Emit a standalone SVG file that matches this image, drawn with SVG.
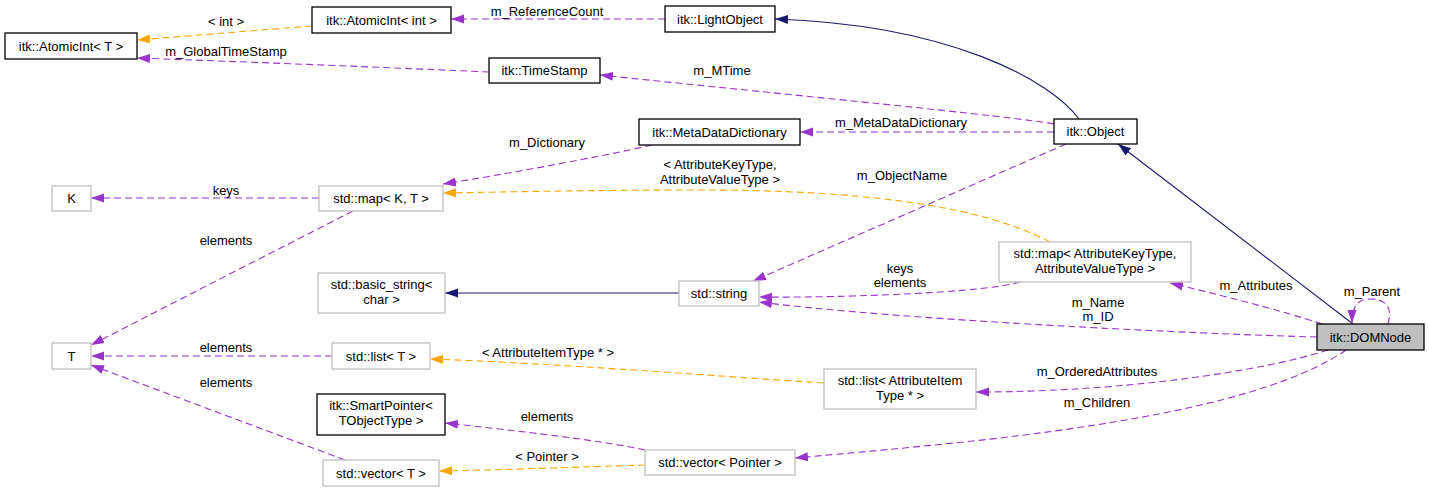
<svg xmlns="http://www.w3.org/2000/svg" width="1429" height="492" viewBox="0 0 1429 492">
<defs>
<style>
text{font-family:"Liberation Sans",Arial,sans-serif;font-size:13px;fill:#000;text-anchor:middle}
.nb{fill:#fff;stroke:#000;stroke-width:1.3}
.ng{fill:#fff;stroke:#bfbfbf;stroke-width:1.3}
.nc{fill:#bfbfbf;stroke:#000;stroke-width:1.3}
.p{fill:none;stroke:#9a32cd;stroke-width:1.1;stroke-dasharray:7,4;marker-end:url(#ap)}
.o{fill:none;stroke:#ffa500;stroke-width:1.1;stroke-dasharray:7,4;marker-end:url(#ao)}
.n{fill:none;stroke:#191970;stroke-width:1.1;marker-end:url(#an)}
</style>
<marker id="ap" markerUnits="userSpaceOnUse" markerWidth="14" markerHeight="10" refX="13" refY="5" orient="auto"><path d="M0,0.5 L13,5 L0,9.5 z" fill="#9a32cd"/></marker>
<marker id="ao" markerUnits="userSpaceOnUse" markerWidth="14" markerHeight="10" refX="13" refY="5" orient="auto"><path d="M0,0.5 L13,5 L0,9.5 z" fill="#ffa500"/></marker>
<marker id="an" markerUnits="userSpaceOnUse" markerWidth="14" markerHeight="10" refX="13" refY="5" orient="auto"><path d="M0,0.5 L13,5 L0,9.5 z" fill="#191970"/></marker>
</defs>
<rect width="1429" height="492" fill="#fff"/>
<g id="connectors">
<path class="o" d="M312,26 L137,40"/>
<text x="226" y="26">&lt; int &gt;</text>
<path class="p" d="M665,19 L451,19"/>
<text x="547" y="16">m_ReferenceCount</text>
<path class="p" d="M489,72 C400,68 250,62 137,58"/>
<text x="226" y="56">m_GlobalTimeStamp</text>
<path class="n" d="M1079,119 C1050,80 950,25 775,19"/>
<path class="p" d="M1054,124 C1010,116 800,96 600,75"/>
<text x="722" y="75">m_MTime</text>
<path class="p" d="M1054,132 L800,132"/>
<text x="901" y="127">m_MetaDataDictionary</text>
<path class="p" d="M652,145 C600,157 500,175 443,184"/>
<text x="547" y="147">m_Dictionary</text>
<path class="o" d="M1050,242 C980,205 860,190 700,190 C600,190 500,192 443,193"/>
<text x="720" y="169">&lt; AttributeKeyType,</text>
<text x="720" y="184">AttributeValueType &gt;</text>
<path class="p" d="M1066,144 L753,281"/>
<text x="902" y="180">m_ObjectName</text>
<path class="p" d="M319,198 L91,198"/>
<text x="226" y="195">keys</text>
<path class="p" d="M353,211 L91,345"/>
<text x="226" y="245">elements</text>
<path class="n" d="M679,293 L445,293"/>
<path class="p" d="M1020,282 C990,292 850,298 759,297"/>
<text x="900" y="273">keys</text>
<text x="900" y="287">elements</text>
<path class="p" d="M1317,337 C1200,334 900,320 759,302"/>
<text x="1098" y="307">m_Name</text>
<text x="1098" y="321">m_ID</text>
<path class="p" d="M1322,324 C1280,310 1220,295 1170,283"/>
<text x="1256" y="290">m_Attributes</text>
<path class="n" d="M1353,324 L1118,144"/>
<path class="p" d="M1388,324 C1393,306 1385,299 1370,299 C1358,299 1352,306 1352,323"/>
<text x="1372" y="296">m_Parent</text>
<path class="p" d="M332,356 L91,356"/>
<text x="226" y="352">elements</text>
<path class="p" d="M345,460 L91,365"/>
<text x="226" y="387">elements</text>
<path class="o" d="M824,383 C700,375 550,363 430,359"/>
<text x="548" y="357">&lt; AttributeItemType * &gt;</text>
<path class="p" d="M1328,350 C1260,372 1120,392 976,392"/>
<text x="1097" y="376">m_OrderedAttributes</text>
<path class="p" d="M645,450 C600,440 510,430 445,423"/>
<text x="547" y="421">elements</text>
<path class="o" d="M645,465 C580,467 500,470 439,471"/>
<text x="547" y="461">&lt; Pointer &gt;</text>
<path class="p" d="M1346,350 C1280,395 1150,420 1000,438 C920,447 850,453 795,458"/>
<text x="1097" y="407">m_Children</text>
</g>
<g id="node-atomicint-t"><rect class="nb" x="5" y="33" width="132" height="26"/><text x="71" y="51">itk::AtomicInt&lt; T &gt;</text></g>
<g id="node-atomicint-int"><rect class="nb" x="312" y="7" width="139" height="26"/><text x="381.5" y="25">itk::AtomicInt&lt; int &gt;</text></g>
<g id="node-lightobject"><rect class="nb" x="665" y="6" width="110" height="26"/><text x="720" y="24">itk::LightObject</text></g>
<g id="node-timestamp"><rect class="nb" x="489" y="58" width="111" height="25"/><text x="544.5" y="75">itk::TimeStamp</text></g>
<g id="node-metadatadictionary"><rect class="nb" x="639" y="119" width="161" height="26"/><text x="719.5" y="137">itk::MetaDataDictionary</text></g>
<g id="node-object"><rect class="nb" x="1054" y="119" width="83" height="25"/><text x="1095.5" y="136">itk::Object</text></g>
<g id="node-map-attr"><rect class="ng" x="999" y="242" width="192" height="40"/><text x="1095" y="258">std::map&lt; AttributeKeyType,</text><text x="1095" y="273">AttributeValueType &gt;</text></g>
<g id="node-k"><rect class="ng" x="52" y="186" width="39" height="25"/><text x="71.5" y="203">K</text></g>
<g id="node-map-kt"><rect class="ng" x="319" y="186" width="124" height="25"/><text x="381" y="203">std::map&lt; K, T &gt;</text></g>
<g id="node-basic-string"><rect class="ng" x="318" y="273" width="127" height="40"/><text x="381.5" y="289">std::basic_string&lt;</text><text x="381.5" y="304">char &gt;</text></g>
<g id="node-string"><rect class="ng" x="679" y="281" width="80" height="25"/><text x="719" y="298">std::string</text></g>
<g id="node-t"><rect class="ng" x="52" y="343" width="39" height="26"/><text x="71.5" y="361">T</text></g>
<g id="node-list-t"><rect class="ng" x="332" y="343" width="98" height="26"/><text x="381" y="361">std::list&lt; T &gt;</text></g>
<g id="node-smartpointer"><rect class="nb" x="317" y="394" width="128" height="41"/><text x="381" y="410">itk::SmartPointer&lt;</text><text x="381" y="425">TObjectType &gt;</text></g>
<g id="node-vector-t"><rect class="ng" x="323" y="460" width="116" height="26"/><text x="381" y="478">std::vector&lt; T &gt;</text></g>
<g id="node-list-attr"><rect class="ng" x="824" y="369" width="152" height="40"/><text x="900" y="385">std::list&lt; AttributeItem</text><text x="900" y="400">Type * &gt;</text></g>
<g id="node-vector-pointer"><rect class="ng" x="645" y="450" width="150" height="25"/><text x="720" y="467">std::vector&lt; Pointer &gt;</text></g>
<g id="node-domnode"><rect class="nc" x="1317" y="324" width="107" height="26"/><text x="1370.5" y="342">itk::DOMNode</text></g>
</svg>
